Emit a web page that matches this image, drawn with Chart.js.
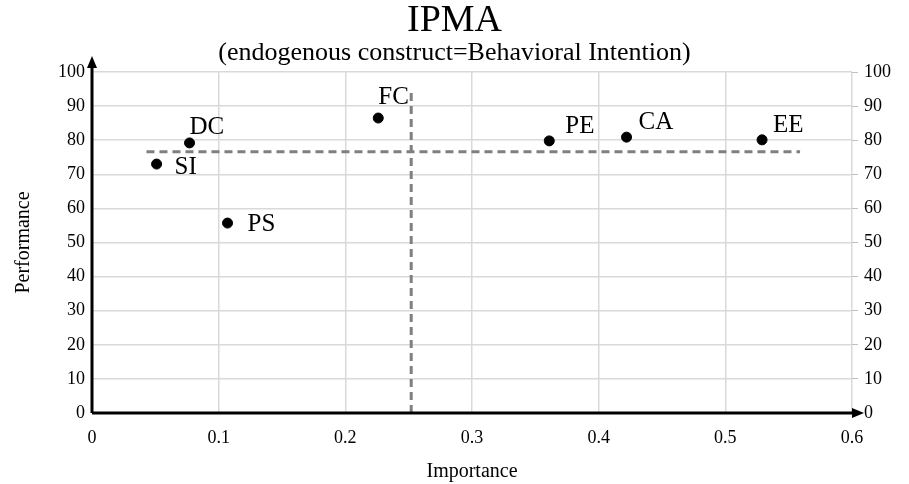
<!DOCTYPE html>
<html>
<head>
<meta charset="utf-8">
<script src="https://cdn.jsdelivr.net/npm/chart.js@4.4.1/dist/chart.umd.min.js"></script>
<style>
  html, body { margin: 0; padding: 0; background: #fff; }
  #wrap { width: 909px; height: 484px; }
</style>
</head>
<body>
<div id="wrap"><canvas id="ipma"></canvas></div>
<script>
// dane IPMA
const constructs = ["SI", "DC", "PS", "FC", "PE", "CA", "EE"];
const importance = [0.051, 0.077, 0.107, 0.226, 0.361, 0.422, 0.529];
const performance = [73.0, 79.2, 55.7, 86.5, 79.8, 80.9, 80.1];

// linie srednich (przerywane)
const meanPerfX = [0.043, 0.559];
const meanPerfY = [76.6, 76.6];
const meanImpX = [0.252, 0.252];
const meanImpY = [0, 95];

const xTicks = [0, 0.1, 0.2, 0.3, 0.4, 0.5, 0.6];
const yTicks = [0, 10, 20, 30, 40, 50, 60, 70, 80, 90, 100];

const FONT = "'Liberation Serif', 'Times New Roman', serif";

// przesuniecia etykiet punktow (px)
const labelOffsets = {
  SI: [18, 3], DC: [0, -15], PS: [20, 1], FC: [0, -21],
  PE: [16, -14], CA: [12, -15], EE: [11, -14]
};

// strzalki na osiach
const axisArrows = {
  id: 'axisArrows',
  afterDraw(chart) {
    const { ctx, chartArea: a } = chart;
    ctx.save();
    ctx.strokeStyle = '#000';
    ctx.fillStyle = '#000';
    ctx.lineWidth = 3;
    ctx.beginPath();
    ctx.moveTo(a.left, a.bottom);
    ctx.lineTo(a.left, a.top - 8);
    ctx.moveTo(a.left, a.bottom);
    ctx.lineTo(a.right + 2, a.bottom);
    ctx.stroke();
    ctx.beginPath();
    ctx.moveTo(a.left, a.top - 16);
    ctx.lineTo(a.left - 5, a.top - 4);
    ctx.lineTo(a.left + 5, a.top - 4);
    ctx.closePath();
    ctx.fill();
    ctx.beginPath();
    ctx.moveTo(a.right + 12, a.bottom);
    ctx.lineTo(a.right, a.bottom - 5);
    ctx.lineTo(a.right, a.bottom + 5);
    ctx.closePath();
    ctx.fill();
    ctx.restore();
  }
};

// etykiety konstruktow
const pointLabels = {
  id: 'pointLabels',
  afterDatasetsDraw(chart) {
    const { ctx } = chart;
    const meta = chart.getDatasetMeta(0);
    ctx.save();
    ctx.font = '25px ' + FONT;
    ctx.fillStyle = '#000';
    ctx.textAlign = 'left';
    ctx.textBaseline = 'middle';
    meta.data.forEach((pt, i) => {
      const name = constructs[i];
      const off = labelOffsets[name];
      ctx.fillText(name, pt.x + off[0], pt.y + off[1]);
    });
    ctx.restore();
  }
};

new Chart(document.getElementById('ipma'), {
  type: 'scatter',
  data: {
    datasets: [
      {
        label: 'Constructs',
        data: importance.map((v, i) => ({ x: v, y: performance[i] })),
        backgroundColor: '#000',
        borderColor: '#000',
        pointRadius: 5,
        pointHoverRadius: 5
      },
      {
        label: 'Mean performance',
        data: meanPerfX.map((v, i) => ({ x: v, y: meanPerfY[i] })),
        showLine: true,
        borderColor: '#7f7f7f',
        borderWidth: 3,
        borderDash: [8, 5],
        pointRadius: 0
      },
      {
        label: 'Mean importance',
        data: meanImpX.map((v, i) => ({ x: v, y: meanImpY[i] })),
        showLine: true,
        borderColor: '#7f7f7f',
        borderWidth: 3,
        borderDash: [8, 5],
        pointRadius: 0
      }
    ]
  },
  options: {
    responsive: true,
    maintainAspectRatio: false,
    animation: false,
    layout: { padding: 0 },
    plugins: {
      legend: { display: false },
      tooltip: { enabled: false },
      title: {
        display: true,
        text: 'IPMA',
        color: '#000',
        font: { family: FONT, size: 38, weight: 'normal', lineHeight: 1.0 },
        padding: { top: 2, bottom: 0 }
      },
      subtitle: {
        display: true,
        text: '(endogenous construct=Behavioral Intention)',
        color: '#000',
        font: { family: FONT, size: 26, weight: 'normal', lineHeight: 1.0 },
        padding: { top: 0, bottom: 6 }
      }
    },
    scales: {
      x: {
        type: 'linear',
        min: 0, max: 0.6,
        afterBuildTicks: s => { s.ticks = xTicks.map(v => ({ value: v })); },
        afterFit: s => { s.height = 71; },
        grid: { color: '#d9d9d9', lineWidth: 1.5, drawTicks: false },
        border: { display: false },
        ticks: {
          color: '#000', padding: 14,
          font: { family: FONT, size: 18 },
          callback: v => String(Math.round(v * 10) / 10)
        },
        title: {
          display: true, text: 'Importance', color: '#000',
          font: { family: FONT, size: 20 }, padding: { top: 4, bottom: 0 }
        }
      },
      y: {
        type: 'linear',
        position: 'left',
        min: 0, max: 100,
        afterBuildTicks: s => { s.ticks = yTicks.map(v => ({ value: v })); },
        afterFit: s => { s.width = 92; },
        grid: { color: '#d9d9d9', lineWidth: 1.5, drawTicks: false },
        border: { display: false },
        ticks: { color: '#000', padding: 7, font: { family: FONT, size: 18 } },
        title: {
          display: true, text: 'Performance', color: '#000',
          font: { family: FONT, size: 20 }, padding: { top: 12, bottom: 0 }
        }
      },
      y2: {
        type: 'linear',
        position: 'right',
        min: 0, max: 100,
        afterBuildTicks: s => { s.ticks = yTicks.map(v => ({ value: v })); },
        afterFit: s => { s.width = 57; },
        grid: { display: true, drawOnChartArea: false, color: '#bfbfbf', tickLength: 6 },
        border: { display: false },
        ticks: { color: '#000', padding: 6, font: { family: FONT, size: 18 } }
      }
    }
  },
  plugins: [axisArrows, pointLabels]
});
</script>
</body>
</html>
